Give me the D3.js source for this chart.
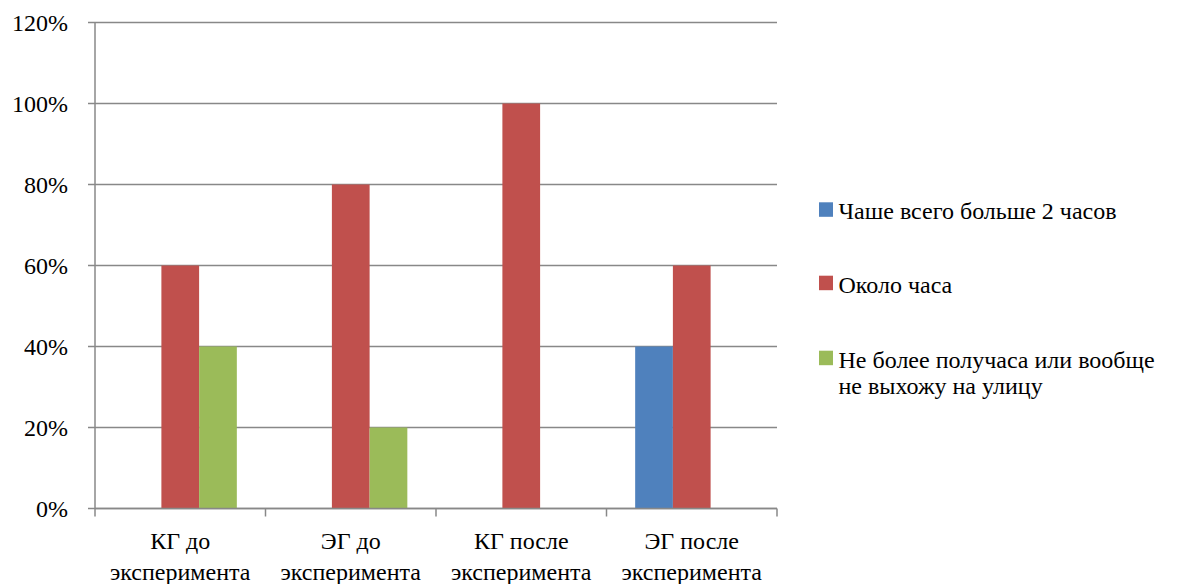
<!DOCTYPE html>
<html>
<head>
<meta charset="utf-8">
<script src="https://cdn.jsdelivr.net/npm/d3@7/dist/d3.min.js"></script>
</head>
<body style="margin:0">
<svg id="s" width="1192" height="584"></svg>
<script>
// Groups on the x axis (two lines each)
const categories = ["КГ до эксперимента", "ЭГ до эксперимента", "КГ после эксперимента", "ЭГ после эксперимента"];
const categoryLines = [["КГ до", "эксперимента"], ["ЭГ до", "эксперимента"], ["КГ после", "эксперимента"], ["ЭГ после", "эксперимента"]];

// Answer options (series)
const seriesNames = ["Чаше всего больше 2 часов", "Около часа", "Не более получаса или вообще не выхожу на улицу"];
const legendLines = [["Чаше всего больше 2 часов"], ["Около часа"], ["Не более получаса или вообще", "не выхожу на улицу"]];
const seriesColors = ["#4F81BD", "#C0504D", "#9BBB59"];

// Share of answers per series, in category order
const valuesBlue  = [0, 0, 0, 0.4];
const valuesRed   = [0.6, 0.8, 1.0, 0.6];
const valuesGreen = [0.4, 0.2, 0, 0];
const seriesValues = [valuesBlue, valuesRed, valuesGreen];

// Y tick values
const yTicks = [0, 0.2, 0.4, 0.6, 0.8, 1.0, 1.2];

const svg = d3.select("#s");
const plot = { left: 95, right: 777, top: 22.5, bottom: 508.5 };
const gridColor = "#888888";

const y = d3.scaleLinear().domain([0, 1.2]).range([plot.bottom, plot.top]);
const x0 = d3.scaleBand().domain(categories).range([plot.left, plot.right]).paddingInner(0).paddingOuter(0);
const x1 = d3.scaleBand().domain(seriesNames).range([0, x0.bandwidth()]).paddingInner(0).paddingOuter(0.76);

function label(x, yPos, str, anchor) {
  return svg.append("text")
    .attr("x", x)
    .attr("y", yPos)
    .attr("text-anchor", anchor)
    .style("font-family", "'Liberation Serif'")
    .style("font-size", "24px")
    .text(str);
}

// Horizontal gridlines with short ticks left of the axis
svg.append("g").selectAll("line")
  .data(yTicks)
  .join("line")
  .attr("x1", plot.left - 7)
  .attr("x2", plot.right)
  .attr("y1", d => y(d))
  .attr("y2", d => y(d))
  .attr("stroke", gridColor)
  .attr("stroke-width", 1.5);

// Bars
const groups = svg.append("g").selectAll("g")
  .data(categories)
  .join("g")
  .attr("transform", d => `translate(${x0(d)},0)`);

groups.selectAll("rect")
  .data((c, i) => seriesNames.map((s, k) => ({ s, k, v: seriesValues[k][i] })))
  .join("rect")
  .filter(d => d.v > 0)
  .attr("x", d => x1(d.s))
  .attr("width", x1.bandwidth())
  .attr("y", d => y(d.v))
  .attr("height", d => y(0) - y(d.v))
  .attr("fill", d => seriesColors[d.k]);

// Y axis line
svg.append("line")
  .attr("x1", plot.left).attr("x2", plot.left)
  .attr("y1", plot.top).attr("y2", plot.bottom)
  .attr("stroke", gridColor).attr("stroke-width", 1.5);

// X axis line and boundary ticks
svg.append("line")
  .attr("x1", plot.left).attr("x2", plot.right)
  .attr("y1", plot.bottom).attr("y2", plot.bottom)
  .attr("stroke", gridColor).attr("stroke-width", 1.5);

const boundaries = categories.map(c => x0(c)).concat([x0(categories[categories.length - 1]) + x0.bandwidth()]);
svg.append("g").selectAll("line")
  .data(boundaries)
  .join("line")
  .attr("x1", d => d).attr("x2", d => d)
  .attr("y1", plot.bottom).attr("y2", plot.bottom + 8)
  .attr("stroke", gridColor).attr("stroke-width", 1.5);

// Y tick labels
yTicks.forEach(d => label(68, y(d) + 8.5, d3.format(".0%")(d), "end"));

// Category labels, one text element per line
categories.forEach((c, i) => {
  categoryLines[i].forEach((line, j) => {
    label(x0(c) + x0.bandwidth() / 2, 549 + j * 30.5, line, "middle");
  });
});

// Legend
const legendX = 819;
const legendY = [219.3, 292.7, 367.7];
seriesNames.forEach((s, i) => {
  svg.append("rect")
    .attr("x", legendX).attr("y", legendY[i] - 17)
    .attr("width", 14).attr("height", 14.5)
    .attr("fill", seriesColors[i]);
  legendLines[i].forEach((line, j) => {
    label(legendX + 19.5, legendY[i] + j * 26.5, line, "start");
  });
});
</script>
</body>
</html>
